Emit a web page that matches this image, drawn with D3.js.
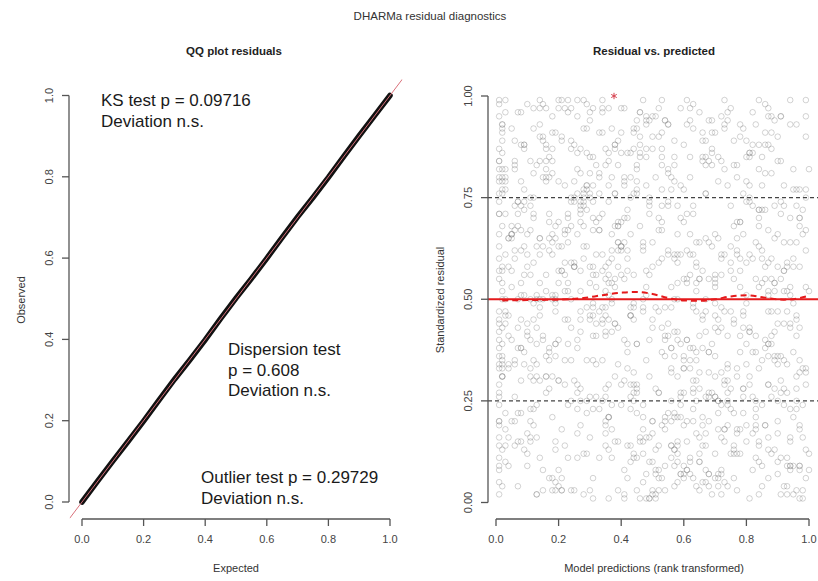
<!DOCTYPE html>
<html>
<head>
<meta charset="utf-8">
<script src="https://cdn.jsdelivr.net/npm/d3@7"></script>
<style>
  body { margin: 0; background: #fff; }
  text { font-family: "Liberation Sans", Arial, sans-serif; }
</style>
</head>
<body>
<div id="chart"></div>
<script>
// QQ plot quantiles (expected vs observed)
var qqExpected = [0,0.05,0.1,0.15,0.2,0.25,0.3,0.35,0.4,0.45,0.5,0.55,0.6,0.65,0.7,0.75,0.8,0.85,0.9,0.95,1];
var qqObserved = [0.000,0.0505,0.1005,0.1495,0.199,0.2505,0.3015,0.3495,0.399,0.451,0.5015,0.5495,0.5995,0.651,0.7015,0.749,0.7985,0.8505,0.901,0.9505,1.0];

// residual vs predicted scatter, both in percent (0-100)
var predRank = [
  3,47,82,15,66,29,91,54,8,73,38,60,22,95,11,44,79,33,57,86,19,70,41,6,63,
  27,88,50,13,76,35,98,58,21,69,2,84,46,31,92,17,55,74,39,10,81,26,64,97,43,
  52,7,71,36,89,24,61,14,80,45,99,30,67,5,56,93,20,77,42,12,85,48,34,72,28,
  94,18,59,40,83,9,68,25,51,87,37,1,75,62,16,49,90,32,78,4,65,23,96,53,11,
  60,33,2,77,45,19,86,54,28,71,95,12,39,64,8,50,83,26,92,57,36,14,69,47,99,
  21,74,43,6,88,31,58,15,80,37,66,3,52,97,24,70,41,10,85,62,29,93,48,18,76,
  9,56,35,90,13,67,44,79,22,61,1,84,30,73,51,16,96,39,58,27,87,4,65,42,81,
  46,11,78,25,63,94,17,53,36,89,7,68,32,55,99,20,75,48,2,60,38,86,14,71,28,
  83,40,5,59,31,72,18,97,49,12,65,26,91,44,8,79,35,57,23,68,1,93,52,16,74,
  37,64,20,87,48,3,76,29,58,42,95,15,70,33,82,6,54,27,61,89,12,45,78,22,99,
  14,92,53,30,69,8,45,85,24,63,38,77,1,56,19,94,41,72,10,50,34,87,66,5,59,
  70,26,96,43,17,81,36,62,4,55,90,21,47,73,13,67,30,86,52,39,98,9,61,28,84,
  2,58,39,75,11,50,88,19,64,33,81,7,46,97,25,60,14,71,43,92,18,55,37,80,23,
  65,31,84,9,56,40,23,77,48,100,16,69,35,52,89,3,74,28,62,45,11,83,20,57,95,
  42,7,68,29,93,55,12,81,37,66,4,49,78,24,60,35,97,15,72,50,88,27,63,8,44,
  78,53,19,61,34,86,47,2,70,25,91,58,13,39,82,67,21,54,96,32,6,76,41,99,17,
  30,85,62,4,47,74,10,57,93,18,43,65,27,88,51,1,36,79,14,68,55,23,90,46,71,
  57,20,44,98,26,63,79,38,5,52,84,31,60,16,75,42,94,8,67,35,73,12,49,86,3,
  89,45,13,67,80,22,54,91,33,7,71,48,99,19,40,62,26,84,11,57,43,96,30,65,37,
  16,72,34,51,4,87,28,66,45,94,21,59,9,80,32,73,53,2,90,24,61,38,77,14,50,
  61,3,87,23,42,13,96,35,73,56,27,82,64,43,6,88,17,49,70,30,92,15,58,36,79,
  34,77,49,69,18,58,6,44,85,29,76,10,53,91,67,22,80,40,31,99,47,63,5,72,25,
  73,39,27,94,52,36,65,11,59,83,47,94,18,35,70,28,8,63,45,81,2,56,87,33,12,
  8,66,56,12,97,75,31,89,16,41,60,36,87,24,46,98,68,20,84,7,53,30,71,51,92,
  1,1,2,1,1,2,1,1,1,2,1,1,2,1,1,1,2,1,1,1,2,1,1,2,1,
  5,36,71,18,93,42,60,27,84,12,55,79,31,98,47,3,66,22,89,40,14,75,58,33,96,
  62,19,45,88,7,53,30,76,11,69,41,94,24,57,83,15,37,100,50,26,73,4,61,86,35,
  28,80,13,59,38,97,21,65,46,2,74,32,90,17,54,81,9,43,68,25,99,51,16,77,39,
  91,48,24,6,70,34,82,57,15,95,29,63,8,44,72,37,19,87,56,1,64,30,93,11,67,
  17,73,52,84,26,61,4,38,92,49,20,78,55,35,10,96,46,71,28,83,42,59,23,88,6,
  44,9,86,32,57,15,99,68,27,80,51,12,40,91,65,24,76,3,53,36,18,94,70,48,81,
  79,54,2,67,41,89,23,47,73,35,6,58,97,29,82,44,13,62,90,20,75,39,8,56,31,
  12,95,37,50,74,28,63,16,85,59,43,22,69,7,48,88,34,56,18,77,1,66,45,99,25,
  58,26,77,14,45,100,37,81,3,68,90,35,17,84,30,62,52,9,73,41,86,27,64,13,50,
  33,70,49,97,19,8,55,24,66,42,78,1,87,60,22,39,91,75,46,14,58,83,31,5,94,
  87,41,16,63,82,36,71,94,50,21,11,67,44,76,93,55,27,18,38,99,65,49,80,23,60,
  4,63,92,29,53,74,18,45,31,87,59,98,26,10,68,33,80,47,95,61,9,35,21,72,43,
  68,20,57,81,11,46,89,6,97,38,24,50,73,64,2,85,42,29,61,54,32,77,14,90,18,
  25,85,40,3,96,65,34,72,59,16,84,44,13,93,37,70,5,98,23,49,79,12,56,39,67,
  96,14,69,43,30,22,78,52,7,74,36,88,61,28,57,19,64,84,11,72,45,92,3,27,53,
  39,58,8,75,64,90,11,33,48,92,17,71,35,80,46,6,97,31,66,2,54,24,85,62,20,
  50,77,31,20,87,5,48,99,40,26,63,15,82,53,25,91,60,36,78,44,94,70,29,9,84,
  74,3,94,55,36,81,62,20,89,9,47,29,70,3,99,13,86,51,7,63,28,41,67,19,45,
  21,67,26,90,12,39,84,58,15,76,95,53,6,42,71,32,23,68,49,86,17,60,97,38,78,
  85,31,63,10,70,52,2,43,78,31,67,89,21,57,13,76,45,92,34,27,81,7,51,74,16,
  47,90,18,38,60,95,29,66,23,54,8,41,96,35,62,87,14,57,83,10,69,26,44,91,32,
  10,44,81,65,22,17,53,87,5,62,31,83,48,74,36,50,72,2,40,58,37,97,19,64,88,
  66,22,36,96,49,77,41,14,94,25,72,56,34,19,87,9,54,27,93,70,3,48,82,29,57,
  40,59,97,27,8,56,72,91,34,83,19,47,68,100,43,64,30,79,16,38,90,52,34,76,6,
  2,1,1,3,1,2,1,1,2,1,3,1,1,2,1,1,2,1,1,2,1,2,1,1,2
];
var residual = [
  71,12,88,40,5,63,27,94,51,18,76,33,59,2,84,45,22,67,9,98,36,55,80,14,48,
  19,60,3,83,44,26,72,10,57,91,35,68,15,49,78,6,93,30,62,41,86,23,54,1,75,
  90,38,65,21,52,97,8,46,74,29,13,81,42,66,25,58,99,17,33,70,4,87,48,61,12,
  43,84,24,69,11,56,37,79,2,95,60,20,47,85,31,73,7,53,90,16,64,39,28,77,50,
  6,47,76,33,92,15,58,41,68,25,82,49,3,37,96,20,64,11,44,79,54,30,87,18,62,
  57,27,14,89,39,74,50,3,85,62,21,96,70,9,43,31,78,58,24,66,12,47,35,91,83,
  34,80,55,17,63,8,92,28,45,99,38,72,26,61,1,87,46,15,73,52,29,65,10,57,42,
  88,16,41,74,27,53,35,69,97,13,50,4,83,22,67,40,59,93,31,7,76,19,61,45,2,
  25,63,92,7,58,32,81,18,40,71,96,29,55,11,73,46,20,85,64,37,14,52,3,88,33,
  66,4,30,51,85,44,13,77,21,6,58,90,36,80,17,62,94,42,8,54,75,27,69,35,99,
  48,73,19,96,2,67,28,54,89,38,15,61,80,32,51,9,70,24,98,43,57,6,84,65,21,
  12,95,45,26,71,86,59,7,34,82,47,18,63,93,39,76,3,55,27,69,16,88,40,74,53,
  79,31,68,57,20,10,87,49,64,23,74,43,1,77,58,35,84,6,48,28,95,62,18,39,70,
  3,56,82,13,48,91,24,65,16,52,31,86,58,27,94,14,41,73,56,11,67,37,79,22,60,
  60,22,7,72,34,41,97,29,80,45,65,10,93,50,19,83,32,63,2,90,26,74,49,15,87,
  37,85,50,62,96,19,5,82,56,30,71,40,24,68,8,47,89,21,77,34,60,14,97,53,28,
  94,9,33,46,15,78,61,36,4,87,23,55,72,41,80,26,13,66,50,84,44,99,20,68,7,
  21,69,91,1,76,30,43,88,66,14,99,35,9,56,28,72,51,38,83,19,5,59,31,81,46,
  54,39,16,85,59,67,20,95,11,74,42,78,32,3,63,97,27,70,15,61,86,23,45,10,92,
  82,48,61,28,9,47,75,14,39,99,6,26,51,89,44,18,67,80,36,25,71,53,12,97,64,
  15,77,39,54,86,2,64,52,92,33,81,60,17,46,73,55,38,1,91,58,35,8,66,29,76,
  45,18,74,94,31,59,83,25,60,48,12,42,87,36,5,66,79,29,46,95,21,73,57,84,3,
  99,58,28,8,67,84,12,40,78,55,24,93,66,14,49,92,22,61,77,43,54,11,36,70,30,
  30,89,53,35,43,23,48,73,27,64,88,1,39,75,90,33,55,97,63,4,99,46,25,8,57,
  2,8,13,19,24,31,36,42,47,52,57,63,68,74,79,84,89,95,5,27,39,60,71,86,98,
  53,86,22,64,9,37,77,45,14,92,61,28,70,3,48,82,19,56,35,97,11,73,42,67,25,
  38,5,79,47,68,91,16,55,33,83,2,44,74,60,21,98,50,12,87,66,29,58,93,40,17,
  76,51,34,7,88,19,63,41,96,57,24,69,10,85,36,1,72,46,27,59,90,13,80,31,64,
  11,94,59,82,43,71,26,13,50,37,78,6,62,29,95,54,39,67,20,84,47,75,2,56,89,
  69,30,47,15,99,54,41,87,24,75,8,57,93,46,66,31,85,4,60,18,39,97,71,12,34,
  27,63,88,41,13,80,6,32,71,49,95,23,56,84,16,68,45,99,37,74,61,9,26,51,78,
  92,18,43,76,55,28,67,99,15,42,84,61,8,35,73,49,2,80,25,63,12,89,54,38,6,
  45,77,11,58,94,63,20,36,85,70,29,52,39,96,7,81,25,14,50,62,33,91,3,75,58,
  14,40,69,90,22,8,49,61,79,26,44,87,65,33,54,11,97,37,82,1,72,25,59,43,95,
  81,26,56,35,68,88,74,3,46,62,18,34,97,55,78,43,30,63,16,93,5,41,85,20,70,
  59,8,97,23,37,45,85,64,17,90,73,50,12,68,27,81,57,3,44,77,32,94,19,52,36,
  33,71,4,86,60,25,51,94,78,13,39,66,82,44,20,91,34,62,9,55,74,28,99,7,46,
  7,54,83,31,75,96,36,20,58,68,87,2,47,25,93,62,14,78,40,3,56,80,65,34,21,
  88,35,62,50,3,55,91,43,27,84,10,76,31,59,42,6,68,24,96,71,47,19,38,83,14,
  41,99,27,66,85,14,60,8,71,34,56,95,20,77,4,39,52,88,31,16,82,64,10,47,73,
  64,12,45,97,30,66,23,76,1,52,37,79,48,15,86,26,70,41,57,92,9,35,78,61,30,
  20,83,67,4,52,40,95,29,63,17,98,41,86,6,58,74,33,21,69,48,15,53,92,77,2,
  96,47,16,73,21,85,10,57,42,88,64,22,54,80,33,50,91,7,74,28,99,40,17,65,83,
  3,65,38,58,81,34,72,15,89,6,49,83,35,70,18,61,45,94,1,38,80,27,68,55,12,
  72,23,92,12,46,59,31,80,53,97,26,65,3,89,51,22,76,57,35,87,42,15,48,4,79,
  50,90,6,44,69,21,98,38,11,48,79,30,73,41,94,16,65,50,23,9,63,86,32,95,26,
  17,56,75,28,97,62,43,88,66,35,1,93,57,19,78,45,8,36,86,54,24,70,13,58,91,
  85,29,51,93,16,3,79,54,23,75,60,14,99,47,29,87,40,73,11,66,18,53,96,25,42,
  24,61,9,69,38,77,56,2,97,19,91,47,64,82,10,35,76,26,52,31,84,6,44,89,67,
  4,11,16,22,29,34,40,45,50,55,61,66,71,77,82,87,93,99,9,33,20,58,44,76,91
];

// outlier marked with a star
var outlierX = [0.377];
var outlierY = [1.0];

// smoothed quantile line (red dashed)
var smoothX = [0.02,0.1,0.2,0.28,0.34,0.4,0.44,0.5,0.55,0.6,0.65,0.7,0.75,0.8,0.86,0.92,0.97,1.0];
var smoothY = [0.497,0.498,0.499,0.503,0.510,0.516,0.518,0.513,0.503,0.497,0.496,0.500,0.507,0.510,0.504,0.499,0.503,0.509];

var quantileLines = [0.25, 0.75];
var xTicks = [0,0.2,0.4,0.6,0.8,1.0];
var qqYTicks = [0,0.2,0.4,0.6,0.8,1.0];
var resYTicks = [0,0.25,0.5,0.75,1.0];

var svgWidth = 818, svgHeight = 581;
var svg = d3.select("#chart").append("svg")
    .attr("width", svgWidth)
    .attr("height", svgHeight);

var fmt1 = d3.format(".1f"), fmt2 = d3.format(".2f");

// main title + panel titles
svg.append("text").attr("x", 430).attr("y", 20).attr("text-anchor", "middle")
  .style("font-size", "11.5px").style("fill", "#333").text("DHARMa residual diagnostics");
svg.append("text").attr("x", 234).attr("y", 55).attr("text-anchor", "middle")
  .style("font-size", "11.5px").style("font-weight", "bold").style("fill", "#222").text("QQ plot residuals");
svg.append("text").attr("x", 654).attr("y", 55).attr("text-anchor", "middle")
  .style("font-size", "11.5px").style("font-weight", "bold").style("fill", "#222").text("Residual vs. predicted");

// R-like axis: line only from first to last tick
function rAxisBottom(g, scale, ticks, yPos, format) {
  g.append("line").attr("x1", scale(ticks[0])).attr("x2", scale(ticks[ticks.length-1]))
    .attr("y1", yPos).attr("y2", yPos).attr("stroke", "#555").attr("stroke-width", 1.3);
  ticks.forEach(function(t) {
    g.append("line").attr("x1", scale(t)).attr("x2", scale(t)).attr("y1", yPos).attr("y2", yPos + 7)
      .attr("stroke", "#555").attr("stroke-width", 1.3);
    g.append("text").attr("x", scale(t)).attr("y", yPos + 24).attr("text-anchor", "middle")
      .style("font-size", "11px").style("fill", "#444").text(format(t));
  });
}
function rAxisLeft(g, scale, ticks, xPos, format) {
  g.append("line").attr("y1", scale(ticks[0])).attr("y2", scale(ticks[ticks.length-1]))
    .attr("x1", xPos).attr("x2", xPos).attr("stroke", "#555").attr("stroke-width", 1.3);
  ticks.forEach(function(t) {
    g.append("line").attr("y1", scale(t)).attr("y2", scale(t)).attr("x1", xPos).attr("x2", xPos - 7)
      .attr("stroke", "#555").attr("stroke-width", 1.3);
    g.append("text").attr("text-anchor", "middle")
      .attr("transform", "translate(" + (xPos - 16) + "," + scale(t) + ")rotate(-90)")
      .style("font-size", "11px").style("fill", "#444").text(format(t));
  });
}

//////////////////////////////////////////////
// LEFT PANEL: QQ plot
//////////////////////////////////////////////
var qx = d3.scaleLinear().domain([0, 1]).range([82, 390]);
var qy = d3.scaleLinear().domain([0, 1]).range([502, 95.5]);
var left = svg.append("g");

svg.append("defs").append("clipPath").attr("id", "clipL")
  .append("rect").attr("x", qx(-0.04)).attr("y", qy(1.04))
  .attr("width", qx(1.04) - qx(-0.04)).attr("height", qy(-0.04) - qy(1.04));

var qqData = qqExpected.map(function(e, i) { return [e, qqObserved[i]]; });
left.append("path")
  .datum(qqData)
  .attr("d", d3.line().x(function(d) { return qx(d[0]); }).y(function(d) { return qy(d[1]); }))
  .attr("fill", "none").attr("stroke", "#111").attr("stroke-width", 5.5)
  .attr("stroke-linecap", "round");
left.append("line")
  .attr("clip-path", "url(#clipL)")
  .attr("x1", qx(-0.1)).attr("y1", qy(-0.1)).attr("x2", qx(1.1)).attr("y2", qy(1.1))
  .attr("stroke", "#d9707a").attr("stroke-width", 1);

rAxisBottom(left, qx, xTicks, 519, fmt1);
rAxisLeft(left, qy, qqYTicks, 69, fmt1);

left.append("text").attr("x", 236).attr("y", 572).attr("text-anchor", "middle")
  .style("font-size", "11px").style("fill", "#333").text("Expected");
left.append("text").attr("text-anchor", "middle")
  .attr("transform", "translate(25,300)rotate(-90)")
  .style("font-size", "11px").style("fill", "#333").text("Observed");

var noteSize = "17px";
function note(x, y, lines) {
  lines.forEach(function(l, i) {
    left.append("text").attr("x", x).attr("y", y + i * 20.5)
      .style("font-size", noteSize).style("fill", "#1a1a1a").text(l);
  });
}
note(101, 106, ["KS test  p = 0.09716", "Deviation  n.s."]);
note(228, 355, ["Dispersion test", "p = 0.608", "Deviation  n.s."]);
note(201, 483, ["Outlier test  p = 0.29729", "Deviation  n.s."]);

//////////////////////////////////////////////
// RIGHT PANEL: residual vs predicted
//////////////////////////////////////////////
var rx = d3.scaleLinear().domain([0, 1]).range([496, 809]);
var ry = d3.scaleLinear().domain([0, 1]).range([502.5, 96]);
var right = svg.append("g");

var pts = predRank.map(function(p, i) { return [p / 100, residual[i] / 100]; });
right.selectAll("circle.pt")
  .data(pts).enter().append("circle")
  .attr("class", "pt")
  .attr("cx", function(d) { return rx(d[0]); })
  .attr("cy", function(d) { return ry(d[1]); })
  .attr("r", 2.8)
  .attr("fill", "none")
  .attr("stroke", "#8a8a8a")
  .attr("stroke-opacity", 0.42)
  .attr("stroke-width", 0.9);

// quantile reference lines
right.selectAll("line.q")
  .data(quantileLines).enter().append("line")
  .attr("x1", 488).attr("x2", svgWidth)
  .attr("y1", function(d) { return ry(d); }).attr("y2", function(d) { return ry(d); })
  .attr("stroke", "#444").attr("stroke-width", 1.2).attr("stroke-dasharray", "4,3");
right.append("line")
  .attr("x1", 488).attr("x2", svgWidth).attr("y1", ry(0.5)).attr("y2", ry(0.5))
  .attr("stroke", "#e41a1c").attr("stroke-width", 2);

var smoothData = smoothX.map(function(x, i) { return [x, smoothY[i]]; });
right.append("path")
  .datum(smoothData)
  .attr("d", d3.line().curve(d3.curveMonotoneX)
    .x(function(d) { return rx(d[0]); }).y(function(d) { return ry(d[1]); }))
  .attr("fill", "none").attr("stroke", "#e41a1c").attr("stroke-width", 2)
  .attr("stroke-dasharray", "6,4");

// outlier star
right.selectAll("path.out")
  .data(outlierX).enter().append("path")
  .attr("class", "out")
  .attr("transform", function(d, i) { return "translate(" + rx(d) + "," + ry(outlierY[i]) + ")"; })
  .attr("d", d3.symbol(d3.symbolAsterisk, 28))
  .attr("fill", "none").attr("stroke", "#d6404e").attr("stroke-width", 1);

rAxisBottom(right, rx, xTicks, 519, fmt1);
rAxisLeft(right, ry, resYTicks, 488, fmt2);

right.append("text").attr("x", 654).attr("y", 572).attr("text-anchor", "middle")
  .style("font-size", "11px").style("fill", "#333").text("Model predictions (rank transformed)");
right.append("text").attr("text-anchor", "middle")
  .attr("transform", "translate(444,300)rotate(-90)")
  .style("font-size", "11px").style("fill", "#333").text("Standardized residual");
</script>
</body>
</html>
